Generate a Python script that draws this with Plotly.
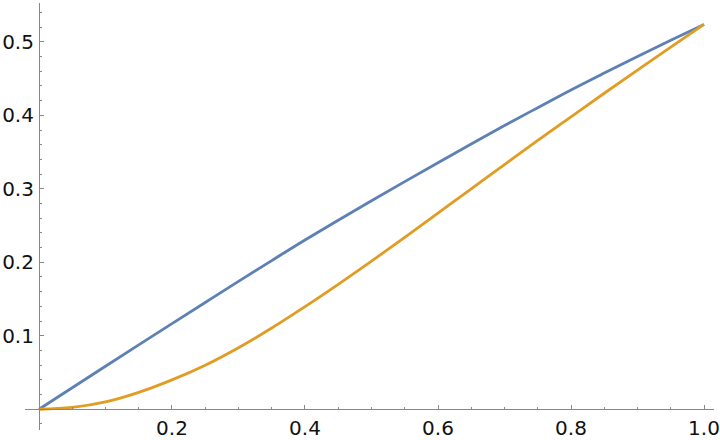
import plotly.graph_objects as go

# values
x_vals = [0.0, 0.05, 0.1, 0.15, 0.2, 0.25, 0.3, 0.35, 0.4, 0.45, 0.5,
          0.55, 0.6, 0.65, 0.7, 0.75, 0.8, 0.85, 0.9, 0.95, 1.0]
blue_vals = [0.0, 0.0293, 0.0585, 0.0876, 0.1165, 0.1453, 0.1740, 0.2023, 0.2303, 0.2573, 0.2838,
             0.3098, 0.3355, 0.3609, 0.3860, 0.4104, 0.4345, 0.4575, 0.4800, 0.5020, 0.5236]
orange_vals = [0.0, 0.0025, 0.010, 0.023, 0.040, 0.060, 0.0838, 0.1105, 0.1396, 0.170, 0.2015,
               0.234, 0.267, 0.300, 0.333, 0.366, 0.398, 0.430, 0.4615, 0.4927, 0.5236]

x_ticks = [0.2, 0.4, 0.6, 0.8, 1.0]
x_minor = [0.05, 0.1, 0.15, 0.25, 0.3, 0.35, 0.45, 0.5, 0.55, 0.65, 0.7, 0.75, 0.85, 0.9, 0.95]
y_ticks = [0.1, 0.2, 0.3, 0.4, 0.5]
y_minor = [-0.02, 0.02, 0.04, 0.06, 0.08, 0.12, 0.14, 0.16, 0.18, 0.22, 0.24, 0.26, 0.28,
           0.32, 0.34, 0.36, 0.38, 0.42, 0.44, 0.46, 0.48, 0.52, 0.54]

x_range = [-0.021, 1.015]
y_range = [-0.0282, 0.5528]

fig = go.Figure()
fig.add_trace(go.Scatter(x=x_vals, y=blue_vals, mode='lines', line_shape='spline',
                         line=dict(color='#5E81B5', width=2.8), hoverinfo='skip'))
fig.add_trace(go.Scatter(x=x_vals, y=orange_vals, mode='lines', line_shape='spline',
                         line=dict(color='#E19C24', width=2.8), hoverinfo='skip'))

axis_style = dict(
    showgrid=False, zeroline=False, showline=True, linecolor='#888888', linewidth=1,
    ticks='inside', ticklen=4, tickwidth=1, tickcolor='#888888',
    tickfont=dict(family='DejaVu Sans', size=20, color='#111111'),
    anchor='free', tickmode='array', automargin=False,
)
fig.update_xaxes(axis_style, range=x_range, tickvals=x_ticks, ticktext=['0.2', '0.4', '0.6', '0.8', '1.0'],
                 position=(0 - y_range[0]) / (y_range[1] - y_range[0]), ticklabelstandoff=1,
                 minor=dict(tickmode='array', tickvals=x_minor, ticks='inside', ticklen=2.5,
                            tickcolor='#888888', tickwidth=1))
fig.update_yaxes(axis_style, range=y_range, tickvals=y_ticks, ticktext=['0.1', '0.2', '0.3', '0.4', '0.5'],
                 position=(0 - x_range[0]) / (x_range[1] - x_range[0]), ticklabelstandoff=1,
                 minor=dict(tickmode='array', tickvals=y_minor, ticks='inside', ticklen=2.5,
                            tickcolor='#888888', tickwidth=1))

fig.update_layout(
    width=720, height=440,
    margin=dict(l=25, r=6, t=3, b=10),
    plot_bgcolor='white', paper_bgcolor='white',
    showlegend=False,
)

# page body has a default 8px margin, drop it so the figure sits at the corner
fig.write_html("out.html", config={'displayModeBar': False},
               post_script="document.body.style.margin='0';")
